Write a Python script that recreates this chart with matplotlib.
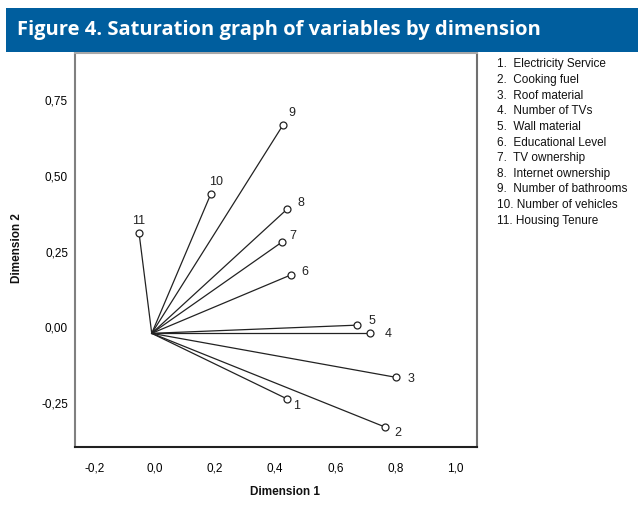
import matplotlib
matplotlib.use("Agg")
import matplotlib.pyplot as plt
import matplotlib.transforms as mtransforms

# ---- data ----
var_ids = ["1", "2", "3", "4", "5", "6", "7", "8", "9", "10", "11"]
var_names = ["Electricity Service", "Cooking fuel", "Roof material", "Number of TVs",
             "Wall material", "Educational Level", "TV ownership", "Internet ownership",
             "Number of bathrooms", "Number of vehicles", "Housing Tenure"]
dim1 = [0.449, 0.775, 0.811, 0.725, 0.681, 0.463, 0.434, 0.449, 0.436, 0.196, -0.042]
dim2 = [-0.216, -0.309, -0.145, 0.000, 0.027, 0.193, 0.302, 0.409, 0.687, 0.459, 0.330]
x_ticks = [-0.2, 0.0, 0.2, 0.4, 0.6, 0.8, 1.0]
x_tick_labels = ["-0,2", "0,0", "0,2", "0,4", "0,6", "0,8", "1,0"]
y_ticks = [-0.25, 0.0, 0.25, 0.5, 0.75]
y_tick_labels = ["-0,25", "0,00", "0,25", "0,50", "0,75"]
title = "Figure 4. Saturation graph of variables by dimension"

# label offsets in pixels (style)
label_offsets = [(10, -7), (13, -6), (15, -2), (18, -1), (15, 4), (14, 3),
                 (11, 6), (14, 6), (9, 12), (5, 12), (0, 12)]

plt.rcParams['font.family'] = ['Liberation Sans', 'DejaVu Sans']

W, H = 638, 508
fig = plt.figure(figsize=(W / 100, H / 100), dpi=100)
fig.patch.set_facecolor("white")

# title bar
bar = plt.Rectangle((6 / W, 1 - 52 / H), 1 - 6 / W, 44 / H, transform=fig.transFigure,
                    facecolor="#005e9e", edgecolor="none", zorder=0)
fig.patches.append(bar)
fig.text(17 / W, 1 - 30 / H, title, color="white", fontsize=14.5, fontweight="bold",
         family=["Open Sans", "DejaVu Sans"], va="center", ha="left")

ax = fig.add_axes([75 / W, 1 - 447 / H, (477 - 75) / W, (447 - 53) / H])
ax.set_xlim(-0.255, 1.081)
ax.set_ylim(-0.375, 0.925)

for x, y in zip(dim1, dim2):
    ax.plot([0, x], [0, y], color="#222222", lw=0.9, zorder=2)
ax.plot(dim1, dim2, linestyle="none", marker="o", markersize=5, markerfacecolor="white",
        markeredgecolor="#222222", markeredgewidth=0.9, zorder=3)

for x, y, lab, (dx, dy) in zip(dim1, dim2, var_ids, label_offsets):
    ax.annotate(lab, (x, y), xytext=(dx, dy), textcoords="offset pixels",
                ha="center", va="center", fontsize=9, color="#222222")

ax.set_xticks(x_ticks)
ax.set_xticklabels(x_tick_labels, fontsize=8.5)
ax.set_yticks(y_ticks)
ax.set_yticklabels(y_tick_labels, fontsize=8.5)
ax.tick_params(axis="both", length=0)
ax.tick_params(axis="x", pad=11)
ax.tick_params(axis="y", pad=5)

# small shift of tick labels to match the reference
dxo = mtransforms.ScaledTranslation(3 / 100, 0, fig.dpi_scale_trans)
dyo = mtransforms.ScaledTranslation(0, 6 / 100, fig.dpi_scale_trans)
for t in ax.get_xticklabels():
    t.set_transform(t.get_transform() + dxo)
for t in ax.get_yticklabels():
    t.set_transform(t.get_transform() + dyo)

ax.spines["left"].set_color("#808080")
ax.spines["top"].set_color("#a8a8a8")
ax.spines["right"].set_color("#707070")
ax.spines["bottom"].set_color("#202020")
for s in ax.spines.values():
    s.set_linewidth(1.5)

fig.text(285 / W, 1 - 492 / H, "Dimension 1", fontsize=8.5, fontweight="bold",
         ha="center", va="center", color="#111111")
fig.text(17 / W, 1 - 248 / H, "Dimension 2", fontsize=8.5, fontweight="bold",
         ha="center", va="center", rotation=90, color="#111111")

# legend list
for i, (vid, name) in enumerate(zip(var_ids, var_names)):
    fig.text(497 / W, 1 - (64.3 + i * 15.64) / H, f"{vid}.  {name}" if len(vid) == 1 else f"{vid}. {name}",
             fontsize=8.5, ha="left", va="center", color="#111111")

fig.savefig("out.png", dpi=100)
